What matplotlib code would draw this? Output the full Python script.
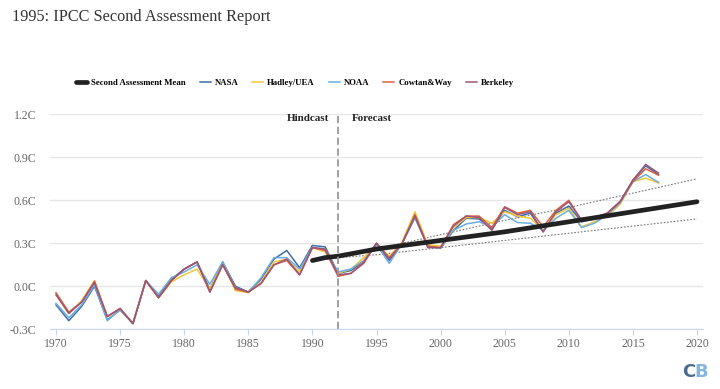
import numpy as np
import matplotlib
matplotlib.use("Agg")
import matplotlib.pyplot as plt

# observed anomalies, 1970-2017
years = np.arange(1970, 2018)
nasa = [-0.13, -0.24, -0.14, 0.00, -0.235, -0.165, -0.26, 0.04, -0.07, 0.05,
        0.12, 0.17, -0.02, 0.17, 0.00, -0.04, 0.05, 0.19, 0.25, 0.13,
        0.285, 0.275, 0.09, 0.11, 0.17, 0.30, 0.18, 0.30, 0.48, 0.28,
        0.265, 0.39, 0.475, 0.47, 0.40, 0.53, 0.485, 0.51, 0.38, 0.51,
        0.56, 0.45, 0.47, 0.51, 0.59, 0.74, 0.84, 0.78]
hadley = [-0.05, -0.19, -0.10, 0.04, -0.215, -0.155, -0.26, 0.04, -0.08, 0.03,
          0.08, 0.12, -0.02, 0.16, -0.03, -0.045, 0.03, 0.17, 0.19, 0.10,
          0.27, 0.24, 0.09, 0.12, 0.20, 0.29, 0.21, 0.31, 0.52, 0.29,
          0.28, 0.41, 0.48, 0.48, 0.44, 0.52, 0.49, 0.475, 0.39, 0.50,
          0.545, 0.415, 0.45, 0.49, 0.57, 0.73, 0.755, 0.72]
noaa = [-0.12, -0.22, -0.13, 0.01, -0.24, -0.16, -0.26, 0.04, -0.055, 0.06,
        0.10, 0.15, 0.015, 0.17, -0.01, -0.04, 0.06, 0.20, 0.20, 0.12,
        0.27, 0.26, 0.10, 0.12, 0.18, 0.29, 0.16, 0.30, 0.48, 0.28,
        0.265, 0.39, 0.435, 0.45, 0.415, 0.50, 0.445, 0.44, 0.39, 0.475,
        0.53, 0.41, 0.44, 0.50, 0.58, 0.73, 0.78, 0.725]
cowtan = [-0.045, -0.18, -0.11, 0.035, -0.21, -0.155, -0.26, 0.04, -0.08, 0.04,
          0.12, 0.17, -0.04, 0.15, -0.02, -0.04, 0.02, 0.15, 0.18, 0.08,
          0.27, 0.25, 0.07, 0.09, 0.17, 0.30, 0.20, 0.30, 0.50, 0.28,
          0.27, 0.43, 0.49, 0.49, 0.41, 0.555, 0.51, 0.53, 0.415, 0.53,
          0.60, 0.46, 0.48, 0.51, 0.59, 0.73, 0.82, 0.775]
berkeley = [-0.06, -0.19, -0.11, 0.025, -0.21, -0.155, -0.26, 0.04, -0.08, 0.04,
            0.12, 0.17, -0.04, 0.15, -0.01, -0.04, 0.02, 0.15, 0.19, 0.08,
            0.27, 0.26, 0.08, 0.09, 0.16, 0.30, 0.19, 0.30, 0.49, 0.27,
            0.27, 0.42, 0.49, 0.48, 0.39, 0.55, 0.50, 0.52, 0.38, 0.52,
            0.59, 0.46, 0.48, 0.51, 0.59, 0.74, 0.85, 0.79]

# second assessment projection
proj_years = [1990, 1991, 1992, 1995, 2000, 2005, 2010, 2015, 2020]
proj_mean = [0.18, 0.20, 0.21, 0.26, 0.32, 0.38, 0.45, 0.52, 0.59]
proj_high = [0.18, 0.20, 0.21, 0.26, 0.36, 0.46, 0.55, 0.65, 0.75]
proj_low = [0.18, 0.19, 0.20, 0.22, 0.27, 0.32, 0.37, 0.42, 0.47]

series = [("NASA", nasa, "#3f6ea8"),
          ("Hadley/UEA", hadley, "#f2c83a"),
          ("NOAA", noaa, "#6aaee0"),
          ("Cowtan&Way", cowtan, "#d9603f"),
          ("Berkeley", berkeley, "#9c5578")]

serif = ["Liberation Serif", "DejaVu Serif"]
plt.rcParams["font.family"] = serif

fig = plt.figure(figsize=(7.2, 3.89), dpi=100)
ax = fig.add_axes([50/720, 1-329.3/389, 653/720, 215/389])

ax.plot(proj_years, proj_high, color="#777777", lw=0.8, ls=(0, (1.5, 1.5)), zorder=2)
ax.plot(proj_years, proj_low, color="#777777", lw=0.8, ls=(0, (1.5, 1.5)), zorder=2)
mean_line, = ax.plot(proj_years, proj_mean, color="#222222", lw=3.4,
                     solid_capstyle="round", label="Second Assessment Mean", zorder=4)
handles = [mean_line]
for name, vals, col in series:
    h, = ax.plot(years, vals, color=col, lw=1.1, label=name, zorder=3)
    handles.append(h)

ax.set_xlim(1969.53, 2020.47)
ax.set_ylim(-0.3, 1.2)
ax.set_yticks([-0.3, 0.0, 0.3, 0.6, 0.9, 1.2])
ax.set_yticklabels(["-0.3C", "0.0C", "0.3C", "0.6C", "0.9C", "1.2C"])
ax.set_xticks(np.arange(1970, 2021, 5))
ax.tick_params(axis="y", length=0, labelsize=8.5, labelcolor="#666666", pad=10)
ax.tick_params(axis="x", length=4, color="#ccd6eb", labelsize=8.5,
               labelcolor="#666666", pad=2)
ax.grid(axis="y", color="#e6e6e6", lw=1)
ax.set_axisbelow(True)
for s in ["top", "right", "left"]:
    ax.spines[s].set_visible(False)
ax.spines["bottom"].set_color("#ccd6eb")

# hindcast / forecast split
ax.axvline(1992, color="#999999", lw=1.3, ls=(0, (4, 2)), zorder=5)
ax.text(1991.3, 1.17, "Hindcast", ha="right", va="center", fontsize=7.9,
        fontweight="bold", color="#222222")
ax.text(1993.1, 1.17, "Forecast", ha="left", va="center", fontsize=7.9,
        fontweight="bold", color="#222222")

fig.text(12/720, 1-17/389, "1995: IPCC Second Assessment Report", fontsize=11.7,
         color="#333333", va="center", ha="left")

fig.legend(handles=handles, loc="center", bbox_to_anchor=(295/720, 1-82.7/389),
           ncol=6, frameon=False, handlelength=1.25, handletextpad=0.45,
           columnspacing=1.6, prop={"family": serif, "weight": "bold", "size": 6.3})

fig.text(0.948, 1-372/389, "C", fontsize=13, fontweight="bold",
         color="#4d6a8c", family="DejaVu Sans", ha="left", va="center")
fig.text(0.965, 1-372/389, "B", fontsize=13, fontweight="bold",
         color="#86b6e0", family="DejaVu Sans", ha="left", va="center")

fig.savefig("out.png", dpi=100)
